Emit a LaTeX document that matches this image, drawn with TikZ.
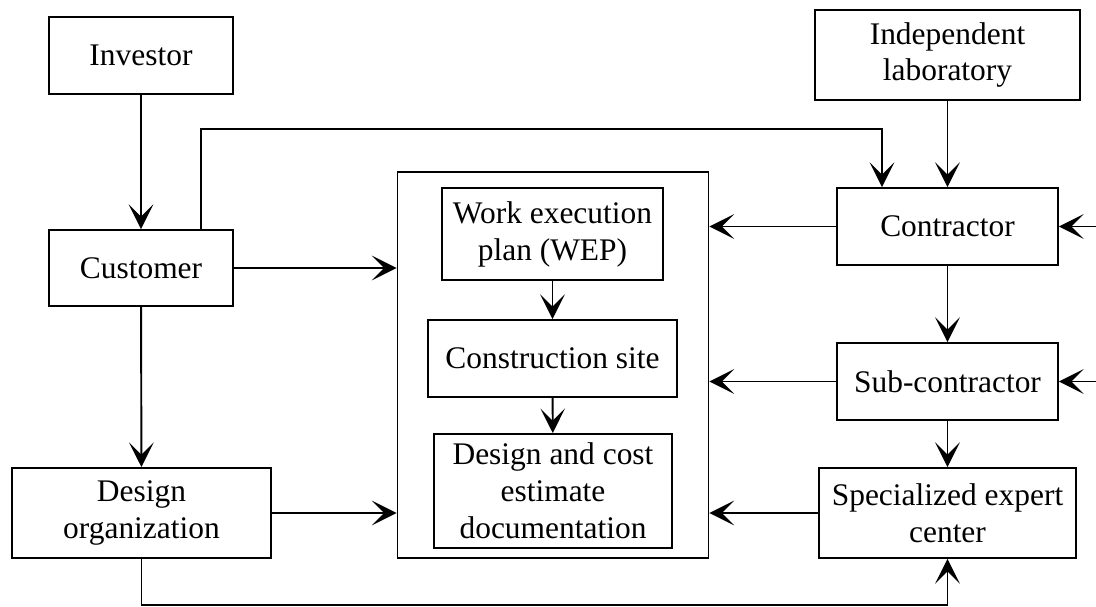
\documentclass[tikz,border=0pt]{standalone}
\usepackage{fontspec}
\setmainfont{Liberation Serif}
\usetikzlibrary{calc,arrows.meta}
\tikzset{
	box/.style={draw, line width=1.1pt, align=center, inner sep=0pt, font=\fontsize{17.9}{21}\selectfont},
	arr/.style={line width=1.1pt, -{Stealth[length=14pt, width=14pt, inset=7pt]}}
}

\begin{document}
\begin{tikzpicture}[x=0.02cm, y=-0.02cm]
		%%%%% START %%%%%
		\useasboundingbox (0, 0) rectangle (1096, 606);
		
		\node[box, minimum width=184*0.02cm, minimum height=77*0.02cm] (inv) at (141, 55.5) {Investor};
		\node[box, minimum width=184*0.02cm, minimum height=76*0.02cm] (cust) at (141, 268) {Customer};
		\node[box, minimum width=259*0.02cm, minimum height=90*0.02cm] (dorg) at (141.5, 513) {Design\\organization};
		
		\node[box, minimum width=311*0.02cm, minimum height=386*0.02cm] (work) at (553, 365) {};
		\node[box, minimum width=221*0.02cm, minimum height=92*0.02cm] (wep) at (552.5, 234) {Work execution\\plan (WEP)};
		\node[box, minimum width=249*0.02cm, minimum height=77*0.02cm] (site) at (552.5, 358.5) {Construction site};
		\node[box, minimum width=238*0.02cm, minimum height=114*0.02cm] (doc) at (553, 491) {Design and cost\\estimate\\documentation};
		
		\node[box, minimum width=265*0.02cm, minimum height=90*0.02cm] (lab) at (947.5, 55) {Independent\\laboratory};
		\node[box, minimum width=221*0.02cm, minimum height=77*0.02cm] (contr) at (947.5, 226.5) {Contractor};
		\node[box, minimum width=221*0.02cm, minimum height=77*0.02cm] (sub) at (947.5, 381.5) {Sub-contractor};
		\node[box, minimum width=257*0.02cm, minimum height=90*0.02cm] (expert) at (947.5, 513) {Specialized expert\\center};
		
		% left column
		\draw[arr] (inv) -- (cust);
		\draw[arr] (cust) -- (dorg);
		\draw[arr] (cust.east) -- (cust.east -| work.west);
		\draw[arr] (dorg.east) -- (dorg.east -| work.west);
		\draw[arr] ($(cust.north)+(60,0)$) |- ($(contr.north)+(-65.5,-58)$) -- ($(contr.north)+(-65.5,0)$);
		\draw[arr] (dorg.south) -- ++(0, 46) -| (expert.south);
		
		% inside
		\draw[arr] (wep) -- (site);
		\draw[arr] (site) -- (doc);
		
		% right column
		\draw[arr] (lab) -- (contr);
		\draw[arr] (contr) -- (sub);
		\draw[arr] (sub) -- (expert);
		\draw[arr] (contr.west) -- (contr.west -| work.east);
		\draw[arr] (sub.west) -- (sub.west -| work.east);
		\draw[arr] (expert.west) -- (expert.west -| work.east);
		\draw[arr] ($(contr.east)+(40,0)$) -- (contr.east);
		\draw[arr] ($(sub.east)+(40,0)$) -- (sub.east);
		
		%%%%% END %%%%%
	\end{tikzpicture}
\end{document}
